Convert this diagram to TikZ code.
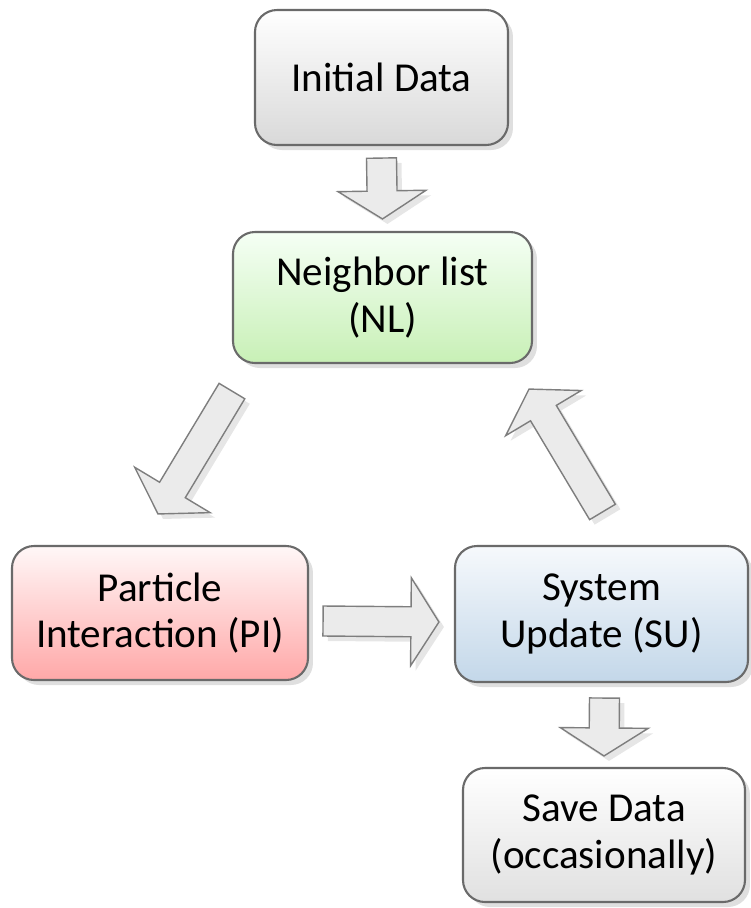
\documentclass[tikz,border=0pt]{standalone}
\usepackage{fontspec}
\setmainfont{Carlito}
\usepackage{tikz}
\usepackage{xcolor}
\usetikzlibrary{
    calc,
    shadows,
    positioning
}
\definecolor{boxline}{HTML}{6A6A6A}
\definecolor{arrowfill}{HTML}{EBEBEB}
\definecolor{arrowline}{HTML}{7E7E7E}
\definecolor{nlend}{HTML}{C8F0B6}
\definecolor{piend}{HTML}{FFA8A8}
\definecolor{suend}{HTML}{C3D7E9}
\definecolor{sutop}{HTML}{F6F9FC}
\newcommand{\blockarrow}[2]{%
    \path ($(#2)!0.28cm!(#1)$) coordinate (#1h);
    \draw[barrow]
    ($(#1)!0.15cm!90:(#2)$) -- ($(#1h)!0.15cm!90:(#2)$)
    -- ($(#1h)!0.44cm!90:(#2)$) -- (#2)
    -- ($(#1h)!0.44cm!-90:(#2)$) -- ($(#1h)!0.15cm!-90:(#2)$)
    -- ($(#1)!0.15cm!-90:(#2)$) -- cycle;}

\begin{document}
\begin{tikzpicture}[
    stage/.style={draw=boxline, line width=0.6pt, rounded corners=0.22cm,
        align=center, inner sep=0pt, minimum height=1.34cm,
        font=\fontsize{11.7}{13.2}\selectfont,
        drop shadow={shadow xshift=0.05cm, shadow yshift=-0.05cm, opacity=0.25}},
    barrow/.style={draw=arrowline, line width=0.4pt, fill=arrowfill,
        drop shadow={shadow xshift=0.05cm, shadow yshift=-0.05cm, opacity=0.2}}
]
    \useasboundingbox (0, 0) rectangle (7.51, -9.08);

    \node[stage, minimum width=2.53cm, minimum height=1.35cm,
        top color=white, bottom color=black!15] (init) at (3.815, -0.775) {Initial Data};
    \node[stage, minimum width=2.99cm, minimum height=1.31cm,
        top color=green!4, bottom color=nlend] (nl) at (3.825, -2.975) {Neighbor list\\(NL)};
    \node[stage, minimum width=2.96cm,
        top color=red!3, bottom color=piend] (pi) at (1.60, -6.13) {Particle\\Interaction (PI)};
    \node[stage, minimum width=2.93cm, minimum height=1.36cm,
        top color=sutop, bottom color=suend] (su) at (6.015, -6.14) {System\\Update (SU)};
    \node[stage, minimum width=2.82cm,
        top color=white, bottom color=black!12] (save) at (6.04, -8.35) {Save Data\\(occasionally)};

    % arrow ends
    \coordinate (a1) at ($(init.south) + (0, -0.12)$);
    \coordinate (b1) at ($(nl.north) + (0, 0.12)$);
    \coordinate (a2) at ($(nl.south west) + (0, -0.27)$);
    \coordinate (b2) at ($(pi.north) + (-0.02, 0.31)$);
    \coordinate (a3) at ($(pi.east) + (0.14, -0.08)$);
    \coordinate (b3) at ($(su.west) + (-0.15, -0.08)$);
    \coordinate (a4) at ($(su.north) + (0.01, 0.33)$);
    \coordinate (b4) at ($(nl.south east) + (-0.04, -0.25)$);
    \coordinate (a5) at ($(su.south) + (0.03, -0.15)$);
    \coordinate (b5) at ($(save.north) + (0, 0.11)$);

    \blockarrow{a1}{b1}
    \blockarrow{a2}{b2}
    \blockarrow{a3}{b3}
    \blockarrow{a4}{b4}
    \blockarrow{a5}{b5}
\end{tikzpicture}
\end{document}
